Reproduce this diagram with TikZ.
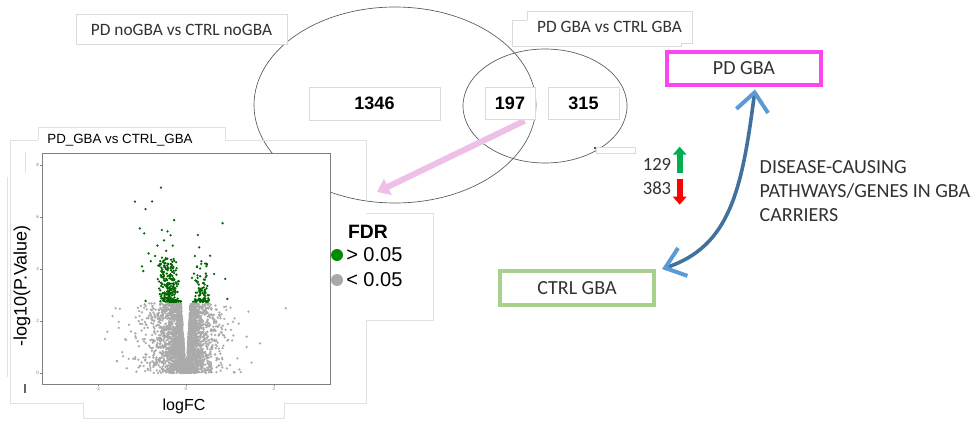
\documentclass[tikz,border=0pt]{standalone}
\usepackage{fontspec}
\setmainfont{Carlito}
\newfontfamily\arialf{Liberation Sans}
\usetikzlibrary{arrows.meta}
\definecolor{boxline}{RGB}{218,218,218}
\definecolor{faint}{RGB}{225,225,225}
\definecolor{magentab}{RGB}{250,70,235}
\definecolor{greenb}{RGB}{169,209,142}
\definecolor{curveblue}{RGB}{65,113,156}
\definecolor{tipblue}{RGB}{91,155,213}
\definecolor{pinkarrow}{RGB}{238,192,232}
\definecolor{upgreen}{RGB}{0,176,80}
\definecolor{downred}{RGB}{255,0,0}
\definecolor{ptgray}{RGB}{170,170,170}
\definecolor{ptgreen}{RGB}{0,100,0}
\definecolor{legreen}{RGB}{0,140,0}
\definecolor{legray}{RGB}{172,168,168}
\definecolor{txtgray}{RGB}{50,50,50}
\tikzset{
  titlebox/.style={draw=boxline, fill=white, line width=0.6pt, inner sep=0pt, font=\fontsize{13}{15}\selectfont, text=txtgray},
  numbox/.style={draw=boxline, fill=white, line width=0.6pt, inner sep=0pt, font=\arialf\bfseries\fontsize{13.5}{15}\selectfont},
  groupbox/.style={draw, fill=white, inner sep=0pt, font=\fontsize{15}{17}\selectfont, text=txtgray},
  vennline/.style={draw=black!65, line width=0.5pt},
  faintline/.style={draw=faint, line width=0.6pt},
  gpt/.style={fill=ptgray},
  grpt/.style={fill=ptgreen},
  ticklab/.style={font=\arialf\fontsize{3.5}{4}\selectfont, text=gray},
}
\begin{document}
\begin{tikzpicture}[x=0.75pt,y=-0.75pt]
\useasboundingbox (0,0) rectangle (978,421);

% ---------------- Venn part ----------------
\draw[vennline] (395,105) ellipse [x radius=105.75pt, y radius=73.5pt];
\draw[vennline] (545,106) ellipse [x radius=61.5pt, y radius=42.75pt];
\fill[black!70] (595,148) circle (1pt);
\draw[faintline, draw=boxline, fill=white] (596,147) rectangle (635,153);

\node[titlebox, minimum width=158.25pt, minimum height=22.5pt] (noGBA) at (181.5,29.5) {PD noGBA vs CTRL noGBA};
% two overlapping boxes for PD GBA vs CTRL GBA
\draw[faintline, draw=boxline, fill=white] (512,20) rectangle (681,46);
\node[titlebox, draw=none, minimum width=123.75pt, minimum height=24pt] (GBAt) at (609.5,27) {PD GBA vs CTRL GBA};
\draw[faintline, draw=boxline] (527,20) -- (527,11) -- (692,11) -- (692,43) -- (681,43);

\coordinate (pinkend) at (377,192);
\node[numbox, minimum width=37.5pt, minimum height=24pt] (n197) at (510,103) {197};
\draw[pinkarrow, line width=4.5pt, -{Triangle[length=9pt,width=13pt]}] ([xshift=11pt,yshift=-1pt]n197.south) -- (pinkend);
\node[numbox, minimum width=37.5pt, minimum height=24pt] at (510,103) {197};
\node[numbox, minimum width=98.25pt, minimum height=24.75pt] (n1346) at (374.5,103.5) {1346};
\node[numbox, minimum width=53.25pt, minimum height=24pt] (n315) at (583.5,103) {315};

% up / down counts
\node[font=\fontsize{14}{16}\selectfont, text=txtgray] (up) at (657,164) {129};
\node[font=\fontsize{14}{16}\selectfont, text=txtgray] (down) at (657,188) {383};
\draw[upgreen, line width=4.5pt, -{Triangle[length=6pt,width=10pt]}] ([xshift=17pt,yshift=-6.5pt]up.center) -- ++(0,19.5pt);
\draw[downred, line width=4.5pt, -{Triangle[length=6pt,width=10pt]}] ([xshift=17pt,yshift=6.5pt]down.center) -- ++(0,-19pt);

% group boxes and connector
\node[groupbox, draw=magentab, line width=2.6pt, minimum width=115.5pt, minimum height=24.75pt] (pdgba) at (744,68.5) {PD GBA};
\node[groupbox, draw=greenb, line width=3pt, minimum width=115.5pt, minimum height=25.5pt] (ctrlgba) at (577,288) {CTRL GBA};
\draw[curveblue, line width=2.7pt,
  {Straight Barb[length=14pt,width=24pt,line width=3pt,color=tipblue]}-{Straight Barb[length=14pt,width=22pt,line width=3pt,color=tipblue]}]
  ([xshift=8.25pt,yshift=-2pt]pdgba.south) .. controls (742,190) and (730,246) .. ([xshift=4.5pt,yshift=0pt]ctrlgba.north east);

\node[anchor=west, align=left, font=\fontsize{15}{18}\selectfont, text=txtgray] (disease) at (755,191)
  {DISEASE-CAUSING\\PATHWAYS/GENES IN GBA\\CARRIERS};

% ---------------- Volcano plot ----------------
% faint background boxes
\draw[faintline] (10,140) -- (38,140) (225,140) -- (366,140);
\draw[faintline] (10,140) -- (10,403) -- (83,403);
\draw[faintline] (284,403) -- (366,403) -- (366,320);
\draw[faintline] (366,140) -- (366,200);
\draw[faintline] (83,403) -- (83,418) -- (284,418) -- (284,403);
\draw[faintline] (7,177) -- (7,377);
\draw[faintline] (25,152) -- (25,173);
\draw[faintline, fill=white] (366,213) -- (433,213) -- (433,320) -- (366,320);
\draw[faintline, fill=white] (38,140) -- (38,127) -- (225,127) -- (225,140);
\node[font=\arialf\fontsize{10}{12}\selectfont] (vtitle) at (120,140.5) {PD\_GBA vs CTRL\_GBA};
\draw[black!60, line width=0.8pt] (25,384) -- (25,393);

% frame
\draw[gray, line width=0.6pt, fill=white] (42,153) rectangle (330,384);
% ticks
\foreach \v in {0,2,4,6,8} {
  \draw[gray, line width=0.4pt] (40,373-26*\v) -- (42,373-26*\v);
  \node[ticklab, anchor=east, inner sep=0.5pt] at (40,373-26*\v) {\v};
}
\foreach \v/\l in {-2/-2,0/0,2/2} {
  \draw[gray, line width=0.4pt] (186+44*\v,384) -- (186+44*\v,386);
  \node[ticklab, anchor=north, inner sep=0.5pt] at (186+44*\v,386) {\l};
}

% gray points
\pgfmathsetseed{1234}
\foreach \i in {1,...,3000} {
  \pgfmathsetmacro\yy{2.68*pow(rnd,1.15)}
  \pgfmathsetmacro\g{abs(rnd+rnd+rnd-1.5)}
  \pgfmathsetmacro\s{rnd<0.56 ? -1.15 : 1}
  \pgfmathsetmacro\t{rnd<0.07 ? 0.7*rnd : 0}
  \pgfmathsetmacro\px{186+44*\s*(0.035*\yy+0.004+0.36*\g*\g+0.22*\g+\t)}
  \pgfmathsetmacro\py{373-26*\yy}
  \fill[gpt] (\px,\py) circle (0.95pt);
}
\foreach \a/\b in {-1.84/1.31,-1.67/2.19,-1.57/0.47,1.42/2.36,2.27/2.49,1.68/1.14,1.38/1.40,1.38/1.0,1.49/0.40,1.17/0.56,-1.36/1.27,-1.14/2.14,-1.25/1.6,-1.45/0.8,1.05/1.25,1.0/0.3,-1.2/0.55,1.2/1.9}{
  \fill[gpt] (186+44*\a,373-26*\b) circle (0.95pt);
}
% green points
\pgfmathsetseed{77}
\foreach \i in {1,...,240} {
  \pgfmathsetmacro\yy{2.74+1.7*pow(rnd,2.0)}
  \pgfmathsetmacro\u{(rnd+rnd)/2}
  \pgfmathsetmacro\px{186-44*(0.1+0.04*(\yy-2.7)+0.55*\u)}
  \pgfmathsetmacro\py{373-26*\yy}
  \fill[grpt] (\px,\py) circle (0.95pt);
}
\foreach \i in {1,...,100} {
  \pgfmathsetmacro\yy{2.74+1.5*pow(rnd,2.2)}
  \pgfmathsetmacro\u{(rnd+rnd)/2}
  \pgfmathsetmacro\px{186+44*(0.08+0.03*(\yy-2.7)+0.48*\u)}
  \pgfmathsetmacro\py{373-26*\yy}
  \fill[grpt] (\px,\py) circle (0.95pt);
}
\foreach \a/\b in {-0.57/7.13,-1.16/6.59,-0.77/6.6,-0.92/6.3,-0.27/5.88,0.83/5.76,-1.05/5.56,-0.95/5.37,0.27/5.31,0.30/4.83,0.55/4.51,0.64/3.81,0.89/3.62,0.94/2.85,-0.97/3.92,-0.92/2.77,-0.55/5.5,-0.5/5.1,-0.42/5.45,-0.35/5.3,-0.65/4.9,-0.85/4.6,-0.8/4.3,-0.3/4.9,-0.45/4.7,0.2/4.5,0.35/4.3,0.25/4.1,-1.0/4.1,-0.7/4.5}{
  \fill[grpt] (186+44*\a,373-26*\b) circle (0.95pt);
}

% axis labels
\node[rotate=90, font=\arialf\fontsize{13.5}{15}\selectfont] (ylab) at (22,286) {-log10(P.Value)};
\node[font=\arialf\fontsize{12}{14}\selectfont] (xlab) at (184,406) {logFC};

% legend
\node[font=\arialf\bfseries\fontsize{14.5}{16}\selectfont] (fdr) at (368,232) {FDR};
\fill[legreen] (337,255) circle (4.5pt);
\fill[legray] (337,280) circle (4.5pt);
\node[anchor=west, inner sep=0pt, font=\arialf\fontsize{15}{17}\selectfont] (gt) at (346,255) {> 0.05};
\node[anchor=west, inner sep=0pt, font=\arialf\fontsize{15}{17}\selectfont] (lt) at (346,280) {< 0.05};
\end{tikzpicture}
\end{document}
